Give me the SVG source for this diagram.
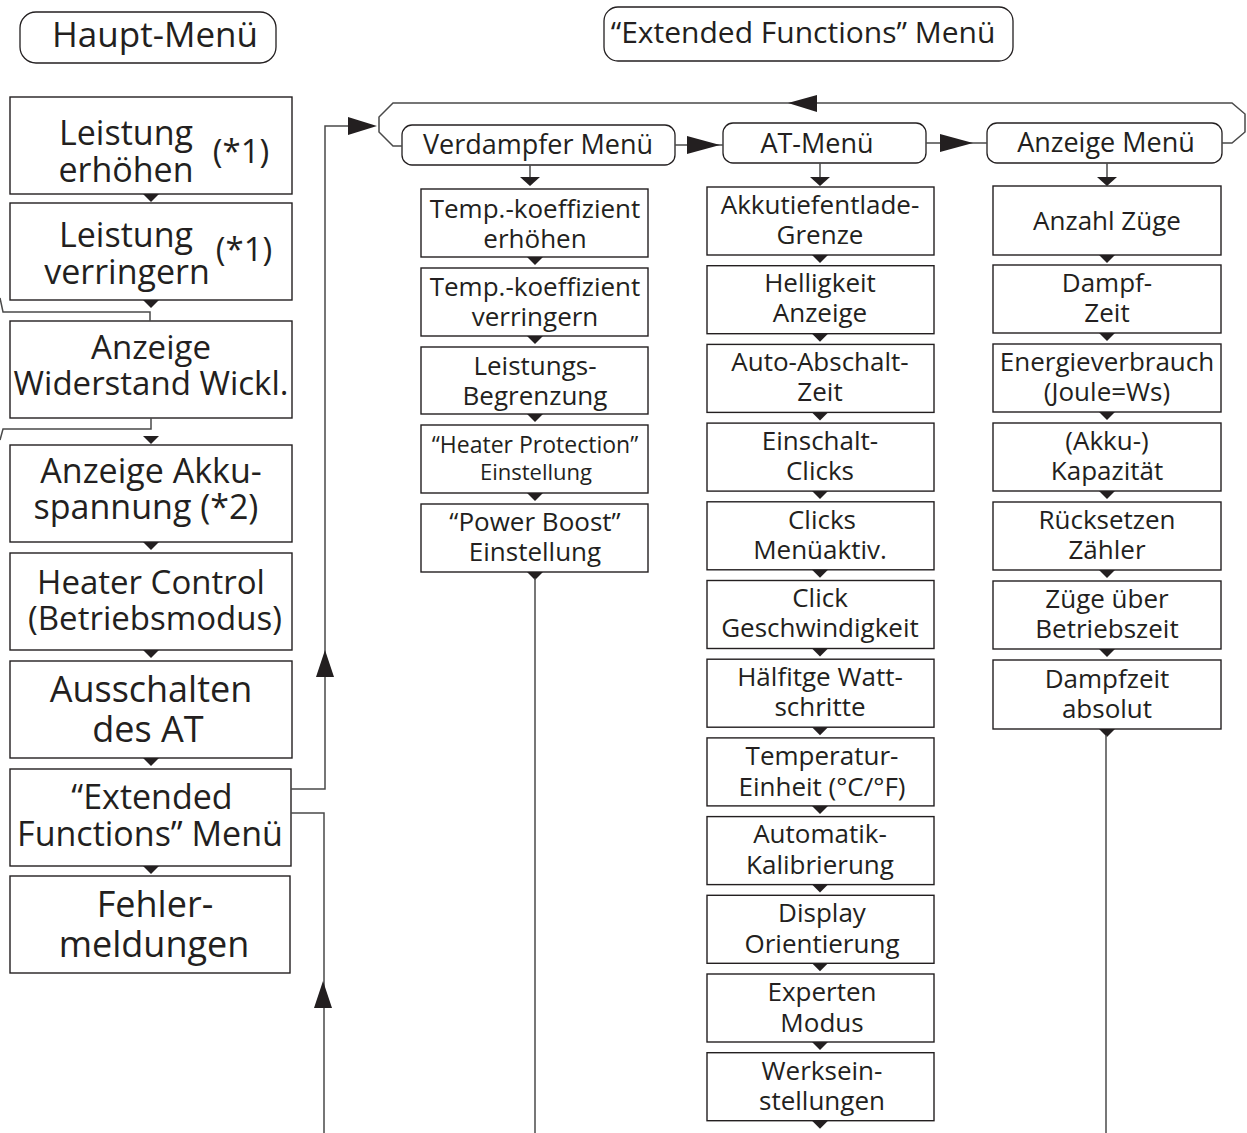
<svg xmlns="http://www.w3.org/2000/svg" width="1247" height="1133" viewBox="0 0 1247 1133">
<defs>
<style>
.box{fill:#fff;stroke:#231f20;stroke-width:1.4}
.menu{fill:#fff;stroke:#231f20;stroke-width:1.3}
.ln{fill:none;stroke:#4a4a4a;stroke-width:1.5}
.ah{fill:#231f20;stroke:none}
text{font-family:"Open Sans","DejaVu Sans",sans-serif;fill:#231f20;text-anchor:middle}
.l{font-size:34px}
.m{font-size:26px}
.h{font-size:27px}
</style>
<path id="dn" d="M-8,0 L8,0 L0,8 Z" fill="#231f20"/>
</defs>
<rect width="1247" height="1133" fill="#fff"/>

<g id="haupt-menu">
<rect class="menu" x="20" y="12" width="256" height="51" rx="16"/>
<text x="155" y="47" style="font-size:35px">Haupt-Menü</text>
</g>
<g id="ext-menu-title">
<rect class="menu" x="604" y="7" width="409" height="54" rx="14"/>
<text x="803" y="43" style="font-size:30px">“Extended Functions” Menü</text>
</g>

<!-- left column -->
<g id="n1"><rect class="box" x="10" y="97" width="282" height="97"/>
<text class="l" x="126" y="145">Leistung</text><text class="l" x="126" y="182">erhöhen</text><text x="241" y="163" style="font-size:33px">(*1)</text></g>
<g id="n2"><rect class="box" x="10" y="203" width="282" height="97"/>
<text class="l" x="126" y="247">Leistung</text><text class="l" x="127" y="284">verringern</text><text x="244" y="261" style="font-size:33px">(*1)</text></g>
<g id="n3"><rect class="box" x="10" y="321" width="282" height="97"/>
<text x="151" y="359" style="font-size:33px">Anzeige</text><text x="151" y="395" style="font-size:33px">Widerstand Wickl.</text></g>
<g id="n4"><rect class="box" x="10" y="445" width="282" height="97"/>
<text x="151" y="483" style="font-size:34px">Anzeige Akku-</text><text x="146" y="519" style="font-size:34px">spannung (*2)</text></g>
<g id="n5"><rect class="box" x="10" y="553" width="282" height="97"/>
<text x="151" y="594" style="font-size:33px">Heater Control</text><text x="155" y="630" style="font-size:33px">(Betriebsmodus)</text></g>
<g id="n6"><rect class="box" x="10" y="661" width="282" height="97"/>
<text x="151" y="702" style="font-size:36px">Ausschalten</text><text x="148" y="742" style="font-size:36px">des AT</text></g>
<g id="n7"><rect class="box" x="10" y="769" width="281" height="97"/>
<text x="152" y="809" style="font-size:34px">“Extended</text><text x="150" y="846" style="font-size:34px">Functions” Menü</text></g>
<g id="n8"><rect class="box" x="10" y="876" width="280" height="97"/>
<text x="155" y="917" style="font-size:36px">Fehler-</text><text x="154" y="957" style="font-size:36px">meldungen</text></g>

<!-- menu headers -->
<g id="verdampfer-menu"><rect class="menu" x="402" y="125" width="273" height="40" rx="10"/>
<text class="h" x="538" y="154">Verdampfer Menü</text></g>
<g id="at-menu"><rect class="menu" x="723" y="123" width="203" height="40" rx="10"/>
<text class="h" x="817" y="153">AT-Menü</text></g>
<g id="anzeige-menu"><rect class="menu" x="987" y="123" width="235" height="40" rx="10"/>
<text class="h" x="1106" y="152">Anzeige Menü</text></g>

<!-- Verdampfer column -->
<g id="v1"><rect class="box" x="421" y="189" width="227" height="68"/><text class="m" x="535" y="218">Temp.-koeffizient</text><text class="m" x="535" y="248">erhöhen</text></g>
<g id="v2"><rect class="box" x="421" y="268" width="227" height="68"/><text class="m" x="535" y="296">Temp.-koeffizient</text><text class="m" x="535" y="326">verringern</text></g>
<g id="v3"><rect class="box" x="421" y="347" width="227" height="67"/><text class="m" x="535" y="375">Leistungs-</text><text class="m" x="535" y="405">Begrenzung</text></g>
<g id="v4"><rect class="box" x="421" y="425" width="227" height="68"/><text x="535" y="453" style="font-size:23px">“Heater Protection”</text><text x="536" y="480" style="font-size:22px">Einstellung</text></g>
<g id="v5"><rect class="box" x="421" y="504" width="227" height="68"/><text class="m" x="535" y="531">“Power Boost”</text><text class="m" x="535" y="561">Einstellung</text></g>

<!-- AT column -->
<g id="a1"><rect class="box" x="707" y="187" width="227" height="68"/><text class="m" x="820" y="214">Akkutiefentlade-</text><text class="m" x="820" y="244">Grenze</text></g>
<g id="a2"><rect class="box" x="707" y="265.7" width="227" height="68"/><text class="m" x="820" y="292">Helligkeit</text><text class="m" x="820" y="322">Anzeige</text></g>
<g id="a3"><rect class="box" x="707" y="344.4" width="227" height="68"/><text class="m" x="820" y="371">Auto-Abschalt-</text><text class="m" x="820" y="401">Zeit</text></g>
<g id="a4"><rect class="box" x="707" y="423.1" width="227" height="68"/><text class="m" x="820" y="450">Einschalt-</text><text class="m" x="820" y="480">Clicks</text></g>
<g id="a5"><rect class="box" x="707" y="501.8" width="227" height="68"/><text class="m" x="822" y="529">Clicks</text><text class="m" x="820" y="559">Menüaktiv.</text></g>
<g id="a6"><rect class="box" x="707" y="580.5" width="227" height="68"/><text class="m" x="820" y="607">Click</text><text class="m" x="820" y="637">Geschwindigkeit</text></g>
<g id="a7"><rect class="box" x="707" y="659.2" width="227" height="68"/><text class="m" x="820" y="686">Hälfitge Watt-</text><text class="m" x="820" y="716">schritte</text></g>
<g id="a8"><rect class="box" x="707" y="737.9" width="227" height="68"/><text class="m" x="822" y="765">Temperatur-</text><text class="m" x="822" y="796">Einheit (°C/°F)</text></g>
<g id="a9"><rect class="box" x="707" y="816.6" width="227" height="68"/><text class="m" x="820" y="843">Automatik-</text><text class="m" x="820" y="874">Kalibrierung</text></g>
<g id="a10"><rect class="box" x="707" y="895.3" width="227" height="68"/><text class="m" x="822" y="922">Display</text><text class="m" x="822" y="953">Orientierung</text></g>
<g id="a11"><rect class="box" x="707" y="974" width="227" height="68"/><text class="m" x="822" y="1001">Experten</text><text class="m" x="822" y="1032">Modus</text></g>
<g id="a12"><rect class="box" x="707" y="1052.7" width="227" height="68"/><text class="m" x="822" y="1080">Werksein-</text><text class="m" x="822" y="1110">stellungen</text></g>

<!-- Anzeige column -->
<g id="z1"><rect class="box" x="993" y="186" width="228" height="69"/><text class="m" x="1107" y="230">Anzahl Züge</text></g>
<g id="z2"><rect class="box" x="993" y="265" width="228" height="68"/><text class="m" x="1107" y="292">Dampf-</text><text class="m" x="1107" y="322">Zeit</text></g>
<g id="z3"><rect class="box" x="993" y="344" width="228" height="68"/><text class="m" x="1107" y="371">Energieverbrauch</text><text class="m" x="1107" y="401">(Joule=Ws)</text></g>
<g id="z4"><rect class="box" x="993" y="423" width="228" height="68"/><text class="m" x="1107" y="450">(Akku-)</text><text class="m" x="1107" y="480">Kapazität</text></g>
<g id="z5"><rect class="box" x="993" y="502" width="228" height="68"/><text class="m" x="1107" y="529">Rücksetzen</text><text class="m" x="1107" y="559">Zähler</text></g>
<g id="z6"><rect class="box" x="993" y="581" width="228" height="68"/><text class="m" x="1107" y="608">Züge über</text><text class="m" x="1107" y="638">Betriebszeit</text></g>
<g id="z7"><rect class="box" x="993" y="660" width="228" height="69"/><text class="m" x="1107" y="688">Dampfzeit</text><text class="m" x="1107" y="718">absolut</text></g>

<g id="connectors">
<use href="#dn" x="151" y="194"/>
<use href="#dn" x="151" y="300"/>
<use href="#dn" x="151" y="436"/>
<use href="#dn" x="151" y="542"/>
<use href="#dn" x="151" y="650"/>
<use href="#dn" x="151" y="758"/>
<use href="#dn" x="151" y="866"/>
<polyline class="ln" points="0,298 3,312 150,312 150,321"/>
<polyline class="ln" points="151,418 151,429 3,429 0,440"/>
<polyline class="ln" points="291,789 325,789 325,126 350,126"/>
<polygon class="ah" points="348,117 377,126 348,135"/>
<polygon class="ah" points="316,677 325,650 334,677"/>
<polyline class="ln" points="291,813 324,813 324,1133"/>
<polygon class="ah" points="314,1008 323,981 332,1008"/>
<polyline class="ln" points="402,146 393,146 379,132 379,117 393,103 1232,103 1245,114 1245,132 1232,143 1222,143"/>
<polygon class="ah" points="817,95 788,103 817,112"/>
<line class="ln" x1="675" y1="145" x2="723" y2="145"/>
<polygon class="ah" points="687,136 720,145 687,154"/>
<line class="ln" x1="926" y1="143" x2="987" y2="143"/>
<polygon class="ah" points="940,134 973,143 940,152"/>
<line class="ln" x1="530" y1="165" x2="530" y2="178"/>
<polygon class="ah" points="520,177 540,177 530,186"/>
<line class="ln" x1="820" y1="163" x2="820" y2="178"/>
<polygon class="ah" points="810,177 830,177 820,186"/>
<line class="ln" x1="1107" y1="163" x2="1107" y2="178"/>
<polygon class="ah" points="1097,177 1117,177 1107,186"/>
<use href="#dn" x="535" y="257"/>
<use href="#dn" x="535" y="336"/>
<use href="#dn" x="535" y="414"/>
<use href="#dn" x="535" y="493"/>
<use href="#dn" x="535" y="572"/>
<line class="ln" x1="535" y1="578" x2="535" y2="1133"/>
<use href="#dn" x="820" y="255"/>
<use href="#dn" x="820" y="333.7"/>
<use href="#dn" x="820" y="412.4"/>
<use href="#dn" x="820" y="491.1"/>
<use href="#dn" x="820" y="569.8"/>
<use href="#dn" x="820" y="648.5"/>
<use href="#dn" x="820" y="727.2"/>
<use href="#dn" x="820" y="805.9"/>
<use href="#dn" x="820" y="884.6"/>
<use href="#dn" x="820" y="963.3"/>
<use href="#dn" x="820" y="1042"/>
<use href="#dn" x="820" y="1120.7"/>
<use href="#dn" x="1107" y="255"/>
<use href="#dn" x="1107" y="333"/>
<use href="#dn" x="1107" y="412"/>
<use href="#dn" x="1107" y="491"/>
<use href="#dn" x="1107" y="570"/>
<use href="#dn" x="1107" y="649"/>
<use href="#dn" x="1107" y="729"/>
<line class="ln" x1="1106" y1="735" x2="1106" y2="1133"/>
</g>
</svg>
